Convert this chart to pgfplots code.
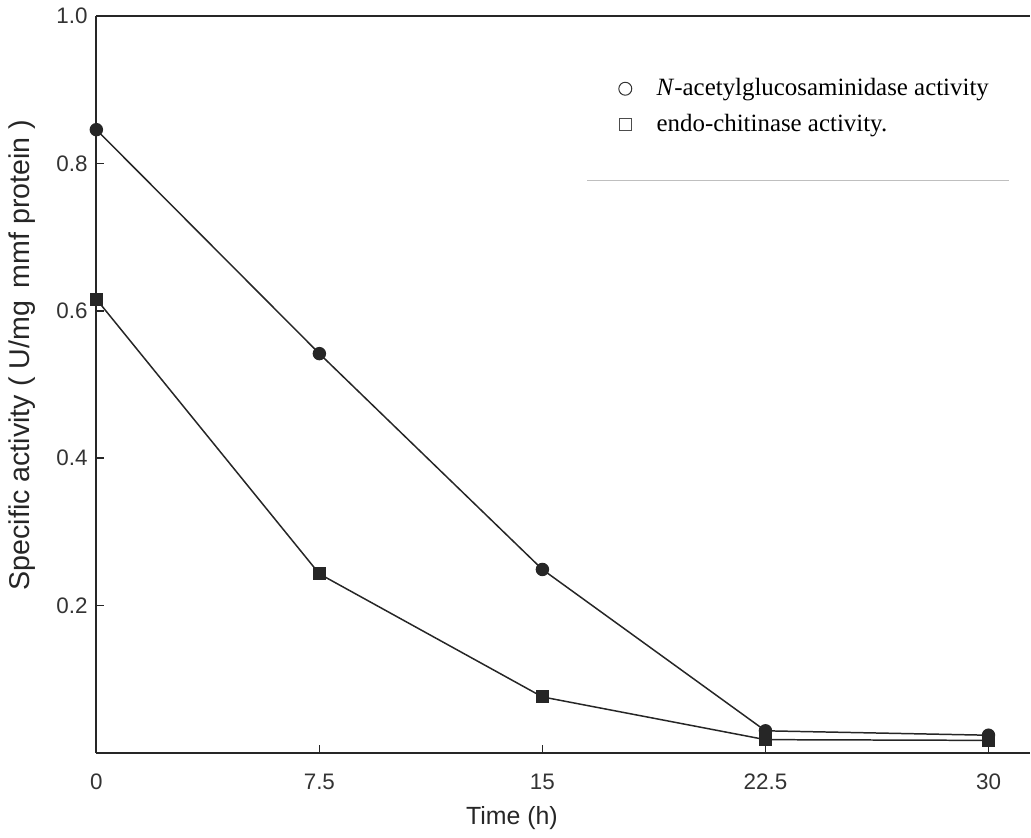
\documentclass[border=0pt]{standalone}
\usepackage{fontspec}
\setmainfont{Liberation Sans}
\newfontfamily\legfont{Liberation Serif}
\usepackage{pgfplots}
\pgfplotsset{compat=1.18}

\begin{document}
\begin{tikzpicture}
\begin{axis}[
    scale only axis,
    width=375.2pt, height=296pt,
    xmin=0, xmax=31.4,
    ymin=0, ymax=1,
    axis lines=left,
    axis line style={-, black!85, line width=0.7pt},
    tick align=inside,
    major tick length=3pt,
    tick style={black!85, line width=0.6pt},
    xtick={0,7.5,15,22.5,30},
    xticklabels={0,7.5,15,22.5,30},
    ytick={0.2,0.4,0.6,0.8,1.0},
    yticklabel style={/pgf/number format/fixed, /pgf/number format/fixed zerofill, /pgf/number format/precision=1},
    xticklabel style={yshift=-5pt},
    /pgf/number format/assume math mode=true,
    tick label style={font=\fontsize{9}{10}\selectfont, text=black!80},
    xlabel={Time (h)},
    ylabel={Specific activity ( U/mg\, mmf protein )},
    every axis x label/.style={at={(axis description cs:0.445,-0.088)}, anchor=center,
        font=\fontsize{10}{12}\selectfont, text=black!85},
    every axis y label/.style={at={(axis description cs:-0.080,0.54)}, rotate=90, anchor=center,
        font=\fontsize{11.5}{13}\selectfont, text=black!85},
    legend style={draw=none, fill=none, font=\legfont\fontsize{10}{12}\selectfont,
        at={(0.551,0.930)}, anchor=north west, row sep=2pt},
    legend cell align=left,
    clip=false,
]
\addplot[forget plot, black!85, line width=0.6pt, mark=*, mark size=2.4pt, mark options={fill=black!85}]
    coordinates {(0,0.846) (7.5,0.542) (15,0.249) (22.5,0.030) (30,0.024)};
\addplot[forget plot, black!85, line width=0.6pt, mark=square*, mark size=2.3pt, mark options={fill=black!85}]
    coordinates {(0,0.616) (7.5,0.243) (15,0.076) (22.5,0.018) (30,0.017)};
\addlegendimage{only marks, mark=o, mark size=2.6pt, black!80, line width=0.4pt}
\addlegendentry{\hspace{8pt}\textit{N}-acetylglucosaminidase activity}
\addlegendimage{only marks, mark=square, mark size=2.3pt, black!70, line width=0.4pt}
\addlegendentry{\hspace{8pt}endo-chitinase activity.}
\draw[black!85, line width=0.7pt] (rel axis cs:0,1) -- (rel axis cs:1,1);
\draw[black!25, line width=0.6pt] (axis cs:16.5,0.777) -- (axis cs:30.7,0.777);
\end{axis}
\path ([yshift=6.4pt]current axis.north west);
\end{tikzpicture}
\end{document}
